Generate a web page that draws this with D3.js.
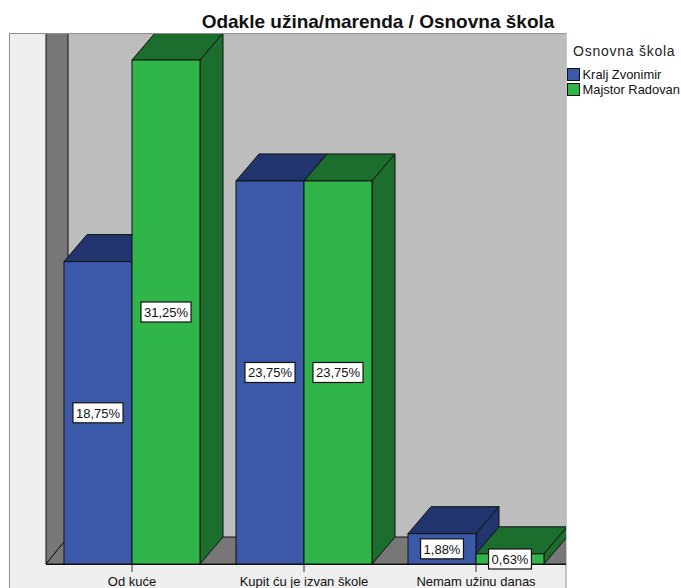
<!DOCTYPE html>
<html><head><meta charset="utf-8">
<script src="https://cdnjs.cloudflare.com/ajax/libs/d3/7.8.5/d3.min.js"></script>
<style>html,body{margin:0;padding:0;background:#fff}svg{display:block;font-family:"Liberation Sans",Arial,sans-serif}</style>
</head><body><svg width="681" height="588"></svg>
<script>
const categories = ["Od kuće", "Kupit ću je izvan škole", "Nemam užinu danas"];
const seriesNames = ["Kralj Zvonimir", "Majstor Radovan"];
const kraljZvonimir = [18.75, 23.75, 1.88];
const majstorRadovan = [31.25, 23.75, 0.63];
const fmt = v => v.toFixed(2).replace(".", ",") + "%";

const svg = d3.select("svg");
const L = 46, R = 566, T = 33, FLOOR = 564, DX = 23, DY = 27;
const x = d3.scaleBand().domain(categories).range([46, 562]).padding(0);
const y = d3.scaleLinear().domain([0, 31.25]).range([FLOOR, 60]);
const sub = d3.scaleBand().domain(seriesNames).range([x.bandwidth()/2 - 68, x.bandwidth()/2 + 68]);
const faces = [{front:"#3c58a8", top:"#22356f", side:"#22356f"}, {front:"#2fb54a", top:"#1c6e2e", side:"#1c6e2e"}];

svg.append("rect").attr("x",9.5).attr("y",33.5).attr("width",556.5).attr("height",560).attr("fill","#efefef").attr("stroke","#8f8f8f");
svg.append("rect").attr("x",L+DX-1).attr("y",T+1).attr("width",R-L-DX+1).attr("height",FLOOR-DY-T-1).attr("fill","#bdbdbd");
const clip = svg.append("clipPath").attr("id","c").append("rect").attr("x",10).attr("y",34).attr("width",R-10).attr("height",560);
const g = svg.append("g").attr("clip-path","url(#c)");
const poly = pts => pts.map(p=>p.join(",")).join(" ");
g.append("polygon").attr("points",poly([[L,T],[L+DX-1,T],[L+DX-1,FLOOR-DY],[L,FLOOR]])).attr("fill","#777").attr("stroke","#111").attr("stroke-width",1);
g.append("polygon").attr("points",poly([[L,FLOOR],[L+DX-1,FLOOR-DY],[R+10,FLOOR-DY],[R+10,FLOOR]])).attr("fill","#777").attr("stroke","#111").attr("stroke-width",1);

const bars = [];
categories.forEach((c,i)=>{
  [kraljZvonimir[i], majstorRadovan[i]].forEach((v,s)=>{
    bars.push({c, v, s, x0:x(c)+sub(seriesNames[s]), w:sub.bandwidth()});
  });
});
const bg = g.selectAll("g.bar").data(bars).join("g").attr("class","bar");
bg.append("polygon").attr("points",d=>poly([[d.x0,y(d.v)],[d.x0+DX,y(d.v)-DY],[d.x0+d.w+DX,y(d.v)-DY],[d.x0+d.w,y(d.v)]]))
  .attr("fill",d=>faces[d.s].top).attr("stroke","#111").attr("stroke-width",1);
bg.append("polygon").attr("points",d=>poly([[d.x0+d.w,y(d.v)],[d.x0+d.w+DX,y(d.v)-DY],[d.x0+d.w+DX,FLOOR-DY],[d.x0+d.w,FLOOR]]))
  .attr("fill",d=>faces[d.s].side).attr("stroke","#111").attr("stroke-width",1);
bg.append("rect").attr("x",d=>d.x0).attr("y",d=>y(d.v)).attr("width",d=>d.w).attr("height",d=>FLOOR-y(d.v))
  .attr("fill",d=>faces[d.s].front).attr("stroke","#111").attr("stroke-width",1);

svg.append("line").attr("x1",L).attr("x2",R).attr("y1",FLOOR+.5).attr("y2",FLOOR+.5).attr("stroke","#111");
const axis = d3.axisBottom(x).tickSize(8).tickSizeOuter(0).tickPadding(5);
const ax = svg.append("g").attr("transform",`translate(0,${FLOOR})`).call(axis);
ax.select(".domain").remove();
ax.selectAll("line").attr("stroke","#333");
ax.selectAll("text").attr("font-size",13).attr("fill","#111").attr("font-family","'Liberation Sans',Arial,sans-serif");

const lab = svg.selectAll("g.lab").data(bars).join("g").attr("class","lab")
  .attr("transform",d=>`translate(${d.x0+d.w/2},${d.v<1?FLOOR-5:(y(d.v)+FLOOR)/2})`);
const box = lab.append("rect").attr("fill","#fff").attr("stroke","#111").attr("stroke-width",1.2);
const txt = lab.append("text").attr("text-anchor","middle").attr("y",5).attr("font-size",13).attr("fill","#111").text(d=>fmt(d.v));
txt.each(function(d){ d.tw = this.getComputedTextLength(); });
box.attr("x",d=>-(d.tw+6)/2).attr("y",-10).attr("width",d=>d.tw+6).attr("height",20);

svg.append("text").attr("x",378).attr("y",28).attr("text-anchor","middle").attr("font-size",19).attr("font-weight","bold").attr("fill","#111").text("Odakle užina/marenda / Osnovna škola");
svg.append("text").attr("x",573).attr("y",56).attr("font-size",14).attr("letter-spacing",.75).attr("fill","#222").text("Osnovna škola");
const leg = svg.selectAll("g.leg").data(seriesNames).join("g").attr("class","leg").attr("transform",(d,i)=>`translate(567,${68+i*15})`);
leg.append("rect").attr("x",.5).attr("y",.5).attr("width",12).attr("height",12).attr("fill",(d,i)=>faces[i].front).attr("stroke","#111");
leg.append("text").attr("x",15.5).attr("y",11).attr("font-size",12.9).attr("fill","#111").text(d=>d);
</script></body></html>
